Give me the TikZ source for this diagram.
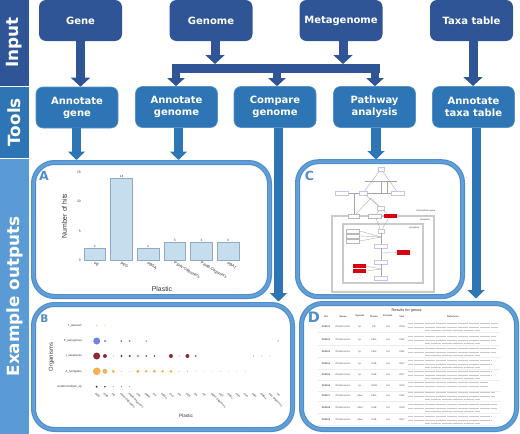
\documentclass[tikz,border=0pt]{standalone}
\usepackage{fontspec}
\setmainfont{DejaVu Sans}
\newfontfamily\chartfont{Liberation Sans}
\usetikzlibrary{arrows.meta}
\definecolor{inputblue}{HTML}{2F5597}
\definecolor{toolblue}{HTML}{2E75B6}
\definecolor{outblue}{HTML}{5B9BD5}
\definecolor{panelblue}{HTML}{4F8ECB}
\definecolor{panellight}{HTML}{629FD9}
\definecolor{barfill}{HTML}{C6DDED}
\definecolor{baredge}{HTML}{8FA9C6}
\definecolor{tomato}{HTML}{D9000F}
\definecolor{pathlilac}{HTML}{C4C4F2}
\definecolor{pathgrey}{HTML}{CACACA}
\definecolor{dotgreen}{HTML}{C6E08C}
\definecolor{dotblue}{HTML}{6F84E0}
\definecolor{dotred}{HTML}{8B2A33}
\definecolor{dotorange}{HTML}{F5B04F}
\tikzset{
    bandbox/.style = {fill = #1, text = white, font = \fontsize{16.8}{18}\selectfont\bfseries, rotate = 90, inner sep = 0pt, minimum height = 29pt},
    inputbox/.style = {fill = inputblue, text = white, rounded corners = 7pt, minimum width = 83pt, minimum height = 41pt, inner sep = 0pt, font = \fontsize{10}{12}\selectfont\bfseries, align = center},
    toolbox/.style = {inputbox, fill = toolblue, draw = toolblue!80!white, line width = .6pt, minimum width = 82pt, minimum height = 41pt},
    outpanel/.style = {draw = panelblue, double = panellight, double distance = 2.6pt, line width = 1.2pt, rounded corners = 21pt, inner sep = 0pt, fill = white},
    inarrow/.style = {draw = inputblue, line width = 9pt, -{Triangle[width = 19pt, length = 9pt]}},
    branch/.style = {draw = inputblue, line width = 8pt, -{Triangle[width = 17pt, length = 8pt]}},
    toolarrow/.style = {draw = toolblue, line width = 9.5pt, -{Triangle[width = 17pt, length = 8.5pt]}},
    paneltag/.style = {text = panelblue, font = \bfseries, inner sep = 0pt},
    pathbox/.style = {draw = pathlilac, line width = .5pt, fill = white, minimum width = #1, minimum height = 4pt, inner sep = 0pt},
    greybox/.style = {pathbox = #1, draw = gray!55, line width = .4pt},
    redbox/.style = {fill = tomato, minimum width = 13pt, minimum height = 4.4pt, inner sep = 0pt},
    pathline/.style = {draw = gray!70, line width = .35pt},
    pathtext/.style = {font = \chartfont\fontsize{2.2}{3}\selectfont, inner sep = 0pt, text = black!80},
    chartlabel/.style = {font = \chartfont\fontsize{#1}{#1}\selectfont, inner sep = 0pt, text = black!80},
    tablecell/.style = {font = \chartfont\fontsize{2.4}{3}\selectfont, inner sep = 0pt, text = black!70},
    reftext/.style = {draw = black!22, line width = .9pt, dash pattern = on 5pt off .5pt}
}
\begin{document}
\begin{tikzpicture}[x = 1pt, y = -1pt]
    \useasboundingbox (0,0) rectangle (520,434);

    % left bands
    \node (inputband) at (14.5, 42.75) [bandbox = inputblue, minimum width = 85.5pt] {Input};
    \node (toolsband) at (14.5, 122.25) [bandbox = toolblue, minimum width = 71.5pt] {Tools};
    \node (outband) at (14.5, 296.5) [bandbox = outblue, minimum width = 275pt] {Example outputs};

    % input row
    \node (gene) at (80.5, 20.5) [inputbox] {Gene};
    \node (genome) at (211, 20.5) [inputbox] {Genome};
    \node (metagenome) at (341, 20.5) [inputbox] {Metagenome};
    \node (taxa) at (471.5, 20.5) [inputbox] {Taxa table};

    % tools row
    \node (anngene) at (77, 107.5) [toolbox] {Annotate\\gene};
    \node (anngenome) at (176.5, 107) [toolbox] {Annotate\\genome};
    \node (compgenome) at (275, 107) [toolbox] {Compare\\genome};
    \node (pathway) at (374.5, 107) [toolbox] {Pathway\\analysis};
    \node (anntaxa) at (473.5, 107) [toolbox] {Annotate\\taxa table};

    % panels
    \node (panela) at (151.5, 229.5) [outpanel, minimum width = 236pt, minimum height = 134pt] {};
    \node (panelc) at (380, 229.2) [outpanel, minimum width = 165pt, minimum height = 135pt] {};
    \node (panelb) at (163, 367) [outpanel, minimum width = 259pt, minimum height = 125pt] {};
    \node (paneld) at (409, 366.5) [outpanel, minimum width = 215pt, minimum height = 126pt] {};

    % arrows from input to tools
    \coordinate (barleft) at (176, 68.5);
    \coordinate (barmid) at (277, 68.5);
    \coordinate (barright) at (375, 68.5);
    \coordinate (genomejoin) at (215, 64);
    \coordinate (metajoin) at (343, 64);
    \coordinate (taxatip) at (473, 86);
    \draw [inarrow] (gene.south) -- (gene.south |- anngene.north);
    \draw [inarrow] (taxa.south -| taxatip) -- (taxatip);
    \draw [inarrow] (genome.south -| genomejoin) -- (genomejoin);
    \draw [inarrow] (metagenome.south -| metajoin) -- (metajoin);
    \draw [draw = inputblue, line width = 9pt, line cap = rect] (barleft) -- (barright);
    \draw [branch] (barleft) -- (barleft |- anngenome.north);
    \draw [branch] (barmid) -- (barmid |- compgenome.north);
    \draw [branch] (barright) -- (barright |- pathway.north);

    % arrows from tools to outputs
    \coordinate (genetip) at (76.5, 160);
    \coordinate (genometip) at (178.5, 160);
    \coordinate (pathtip) at (376, 159.5);
    \coordinate (comparetip) at (278.5, 301.5);
    \coordinate (anntaxatip) at (476, 298.5);
    \draw [toolarrow] (anngene.south -| genetip) -- (genetip);
    \draw [toolarrow] (anngenome.south -| genometip) -- (genometip);
    \draw [toolarrow] (pathway.south -| pathtip) -- (pathtip);
    \draw [toolarrow, line width = 9pt] (compgenome.south -| comparetip) -- (comparetip);
    \draw [toolarrow, line width = 9pt] (anntaxa.south -| anntaxatip) -- (anntaxatip);

    % panel A
    \node (taga) at (44, 176) [paneltag, font = \fontsize{12.5}{13}\selectfont\bfseries] {A};
    \foreach \tickval/\ty in {15/172.3, 10/201.6, 5/231, 0/260}
        \node (atick\tickval) at (81, \ty) [chartlabel = 3.4, anchor = east] {\tickval};
    \foreach \bx/\bval/\bname in {84/2/PE, 110.7/14/PEG, 137.3/2/PBSA, 164/3/P3HV-Oligomers, 190.7/3/P4HB-Oligomers, 217.3/3/PBAT} {
        \draw [draw = baredge, fill = barfill, line width = .7pt] (\bx, 260) rectangle ({\bx + 21.6}, {260 - 5.83*\bval});
        \node (abar\bx) at ({\bx + 10.8}, {257.6 - 5.83*\bval}) [chartlabel = 3.2] {\bval};
        \node (atext\bx) at ({\bx + 10}, 263) [chartlabel = 3.9, anchor = west, rotate = -30] {\bname};
    }
    \node (ayaxis) at (64.5, 216) [chartlabel = 6.9, rotate = 90] {Number of hits};
    \node (axaxis) at (162, 288.7) [chartlabel = 6.9] {Plastic};

    % panel B
    \node (tagb) at (44.5, 318.5) [paneltag, font = \fontsize{10.5}{11}\selectfont\bfseries] {B};
    \foreach \rowy/\rowname in {325.3/T\_aerarum, 341/P\_aeruginosa, 356/I\_sakaiensis, 371.3/A\_fumigatus, 386.7/Acidimicrobium\_sp}
        \node (brow\rowy) at (82, \rowy) [chartlabel = 2.9, anchor = east] {\rowname};
    \foreach \col/\rad in {0/.8, 1/.6}
        \fill [dotgreen] ({96.7 + 8.25*\col}, 325.3) circle (\rad);
    \foreach \col/\rad in {0/3.5, 1/1.1, 3/1, 4/1, 6/.8, 22/.7}
        \fill [dotblue] ({96.7 + 8.25*\col}, 341) circle (\rad);
    \foreach \col/\rad in {0/3.5, 1/2, 2/.4, 3/1.1, 4/1.1, 5/.9, 6/.9, 7/.9, 9/2, 10/.4, 11/2, 12/.9, 19/.35, 20/.35, 21/.35}
        \fill [dotred] ({96.7 + 8.25*\col}, 356) circle (\rad);
    \foreach \col/\rad in {0/3.8, 1/2.4, 2/1.6, 3/.5, 4/.5, 5/1.7, 6/1.4, 7/1.6, 8/1.4, 9/1.5, 10/.6, 11/.7, 12/.45, 13/.4, 14/.4, 15/.4, 16/.4, 17/.4, 18/.4}
        \fill [dotorange] ({96.7 + 8.25*\col}, 371.3) circle (\rad);
    \foreach \col/\rad in {0/1, 1/.8, 2/.45, 3/.45, 4/.45}
        \fill [black!85] ({96.7 + 8.25*\col}, 386.7) circle (\rad);
    \foreach \col/\pname in {0/PEG, 1/PHB, 2/PE, 3/P3HV-Oligomers, 4/P4HB-Oligomers, 5/PCL, 6/PBAT, 7/PU, 8/PBSA, 9/PLA, 10/PS, 11/PES, 12/PA, 13/PP, 14/PBAT-Oligomers, 15/PET, 16/PHBV, 17/PHA, 18/PVA, 19/PBS, 20/PHBH, 21/PCL-Oligomers, 22/PC}
        \node (btick\col) at ({95.5 + 8.25*\col}, 393.5) [chartlabel = 2.7, anchor = west, rotate = -45] {\pname};
    \node (byaxis) at (51.3, 357) [chartlabel = 5.8, rotate = 90] {Organisms};
    \node (bxaxis) at (186, 416) [chartlabel = 4.7] {Plastic};

    % panel C
    \node (tagc) at (309.5, 175.5) [paneltag, font = \fontsize{12.5}{13}\selectfont\bfseries] {C};
    \draw [pathgrey, line width = 1.1pt] (332, 216) rectangle (434, 292);
    \draw [pathgrey, line width = 1.1pt] (343, 224) rectangle (423, 283);
    \node (outerlab) at (426, 211) [pathtext] {Extracellular space};
    \node (perilab) at (425, 219.5) [pathtext] {Periplasm};
    \node (cytolab) at (414, 227.5) [pathtext] {Cytoplasm};
    \coordinate (hubtop) at (381, 181);
    \coordinate (hubleft) at (365, 181);
    \coordinate (hubright) at (397, 181);
    \coordinate (hubbase) at (381, 193);
    \coordinate (hubside) at (387, 181);
    \coordinate (hubsidebase) at (387, 193);
    \coordinate (hubgrey) at (354, 193);
    \coordinate (hubmem) at (371, 198);
    \coordinate (hubin) at (381, 237);
    \coordinate (hubred) at (381, 253);
    \coordinate (hubpair) at (381, 269);
    \node (ptop) at (381, 169) [pathbox = 6pt] {};
    \node (pleft) at (342, 193) [pathbox = 13pt] {};
    \node (pmid) at (363, 193) [pathbox = 8pt] {};
    \node (pright) at (398, 193) [pathbox = 13pt] {};
    \node (pcentre) at (381, 208) [pathbox = 7pt] {};
    \node (gleft) at (354, 216) [greybox = 11pt] {};
    \node (gmid) at (375, 216) [greybox = 13pt] {};
    \node (rtop) at (390, 216) [redbox] {};
    \node (pgate) at (381, 231) [pathbox = 6pt] {};
    \node (ga) at (353, 231) [greybox = 13pt] {};
    \node (gb) at (353, 236) [greybox = 13pt] {};
    \node (gc) at (353, 241) [greybox = 13pt] {};
    \node (pa) at (381, 246) [pathbox = 13pt] {};
    \node (rmid) at (403, 252.5) [redbox] {};
    \node (pb) at (381, 262) [pathbox = 13pt] {};
    \node (ra) at (359, 266) [redbox] {};
    \node (rb) at (359, 271) [redbox] {};
    \node (pc) at (381, 278) [pathbox = 13pt] {};
    \draw [pathline] (hubleft) -- (hubright);
    \draw [pathline] (ptop) -- (pmid);
    \draw [pathline] (ptop) -- (pright);
    \draw [pathline] (pleft) -- (pmid);
    \draw [pathline] (pmid) -- (pright);
    \draw [pathline] (hubside) -- (hubsidebase);
    \draw [pathline] (hubtop) -- (hubbase);
    \draw [pathline] (pmid) -- (pcentre);
    \draw [pathline] (hubgrey) -- (gleft);
    \draw [pathline] (gleft) -- (hubmem);
    \draw [pathline] (hubmem) -- (pcentre);
    \draw [pathline] (pcentre) -- (gmid);
    \draw [pathline] (pcentre) -- (rtop);
    \draw [pathline] (gmid) -- (pgate);
    \draw [pathline] (rtop) -- (pgate);
    \draw [pathline] (ga.east) -- (hubin);
    \draw [pathline] (gb.east) -- (hubin);
    \draw [pathline] (gc.east) -- (hubin);
    \draw [pathline] (pgate) -- (pa);
    \draw [pathline] (pa) -- (pb);
    \draw [pathline] (pb) -- (pc);
    \draw [pathline] (rmid) -- (hubred);
    \draw [pathline] (ra.east) -- (hubpair);
    \draw [pathline] (rb.east) -- (hubpair);

    % panel D
    \node (tagd) at (314, 317) [paneltag, font = \fontsize{14.5}{15}\selectfont\bfseries] {D};
    \node (dtitle) at (407, 310.7) [chartlabel = 3.8] {Results for genus:};
    \foreach \hx/\hname in {326/Hit, 343/Genus, 360/Species, 374/Plastic, 388/Enzyme, 402/Year, 453/Reference}
        \node (dhead\hx) at (\hx, 316.3) [tablecell, font = \chartfont\bfseries\fontsize{2.4}{3}\selectfont] {\hname};
    \foreach \ry/\rid/\rspec/\rplast/\ryear/\rlines/\rend in {327/K00101/sp./PE/2019/3/498, 340/K00102/sp./PEG/2011/3/496, 352/K00103/sp./PEG/2011/3/496, 364/K00104/sp./PHB/2017/3/492, 375/K00105/sp./PHB/2017/3/492, 386/K00106/sp./LDPE/2021/2/488, 396/K00107/ruber/PEG/2011/3/495, 408/K00108/ruber/PHB/2015/3/497, 420/K00109/ruber/PHB/2017/3/492} {
        \node (did\ry) at (326, \ry) [tablecell, text = black] {\rid};
        \node (dgenus\ry) at (343, \ry) [tablecell] {Rhodococcus};
        \node (dspec\ry) at (360, \ry) [tablecell] {\rspec};
        \node (dplast\ry) at (374, \ry) [tablecell] {\rplast};
        \node (denz\ry) at (388, \ry) [tablecell] {Yes};
        \node (dyear\ry) at (402, \ry) [tablecell] {\ryear};
        \draw [reftext] (408, {\ry - 3.1}) -- (\rend, {\ry - 3.1});
        \draw [reftext] (408, \ry) -- (\rend, \ry);
        \ifnum\rlines>2
            \draw [reftext] (425, {\ry + 3.1}) -- (480, {\ry + 3.1});
        \fi
        \draw [black!7, line width = .3pt] (318, {\ry + 5.5}) -- (500, {\ry + 5.5});
    }
\end{tikzpicture}
\end{document}
